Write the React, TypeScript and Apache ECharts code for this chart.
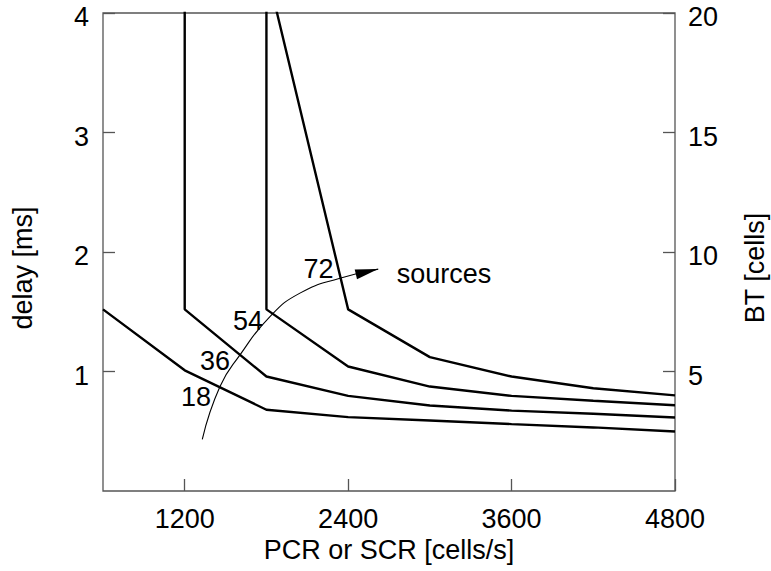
import React, { useEffect, useRef } from "react";
import * as echarts from "echarts";

// x: PCR or SCR [cells/s], y: delay [ms]
const xTicks = [1200, 2400, 3600, 4800];
const curve18 = [[600, 1.52], [1200, 1.01], [1800, 0.68], [2400, 0.618], [3000, 0.59], [3600, 0.56], [4200, 0.532], [4800, 0.498]];
const curve36 = [[1200, 4.6], [1200, 1.52], [1800, 0.958], [2400, 0.796], [3000, 0.715], [3600, 0.673], [4200, 0.646], [4800, 0.615]];
const curve54 = [[1800, 4.6], [1800, 1.52], [2400, 1.042], [3000, 0.874], [3600, 0.796], [4200, 0.755], [4800, 0.718]];
const curve72 = [[1800, 4.37], [2400, 1.52], [3000, 1.12], [3600, 0.958], [4200, 0.86], [4800, 0.8]];
const curves = [curve18, curve36, curve54, curve72];

// annotation anchors (data coordinates)
const labelTexts = ["18", "36", "54", "72", "sources"];
const labelAnchors = [[1283, 0.783], [1422, 1.089], [1665, 1.424], [2182, 1.859], [3104, 1.817]];
const arrowPath = [[1329, 0.433], [1459, 0.874], [1606, 1.139], [1826, 1.46], [2046, 1.656], [2340, 1.781], [2621, 1.857]];

const FONT = "'Liberation Sans', Arial, Helvetica, sans-serif";
const FS = 27;
const AXIS_GRAY = "#555555";

const yLabelStyle = (margin: number) => ({
  showMinLabel: false,
  formatter: (v: number) => "{v|" + v + "}",
  rich: { v: { fontSize: FS, fontFamily: FONT, color: "#000", lineHeight: 28, padding: [8, 0, 0, 0] } },
  margin,
});

export default function App() {
  const ref = useRef<HTMLDivElement>(null);
  useEffect(() => {
    if (!ref.current) return;
    const chart = echarts.init(ref.current, null, { renderer: "svg" });
    const lineSeries = curves.map((c) => ({
      type: "line",
      data: c,
      symbol: "none",
      clip: true,
      lineStyle: { color: "#000", width: 2.4 },
      xAxisIndex: 0,
      yAxisIndex: 0,
      z: 3,
    }));
    const option: any = {
      animation: false,
      backgroundColor: "#fff",
      textStyle: { fontFamily: FONT },
      grid: {
        left: 103,
        right: 96,
        top: 13,
        bottom: 80,
        containLabel: false,
        outerBoundsMode: "none",
        show: true,
        borderColor: AXIS_GRAY,
        borderWidth: 1.3,
        backgroundColor: "transparent",
      },
      xAxis: {
        type: "value",
        min: 600,
        max: 4800,
        name: "PCR or SCR [cells/s]",
        nameLocation: "middle",
        nameGap: 41,
        nameTextStyle: { fontSize: FS, color: "#000", fontFamily: FONT },
        splitLine: { show: false },
        axisLine: { show: false },
        axisTick: { show: true, inside: true, length: 12, customValues: xTicks, lineStyle: { color: AXIS_GRAY, width: 1.3 } },
        axisLabel: { customValues: xTicks, formatter: (v: number) => String(v), fontSize: FS, color: "#000", fontFamily: FONT, margin: 14 },
      },
      yAxis: [
        {
          type: "value",
          min: 0,
          max: 4,
          interval: 1,
          position: "left",
          name: "delay [ms]",
          nameLocation: "middle",
          nameRotate: 90,
          nameGap: 67,
          nameTextStyle: { fontSize: FS, color: "#000", fontFamily: FONT, padding: [0, 32, 0, 0] },
          splitLine: { show: false },
          axisLine: { show: false },
          axisTick: { show: true, inside: true, length: 12, lineStyle: { color: AXIS_GRAY, width: 1.3 } },
          axisLabel: yLabelStyle(14),
        },
        {
          type: "value",
          min: 0,
          max: 20,
          interval: 5,
          position: "right",
          alignTicks: false,
          name: "BT [cells]",
          nameLocation: "middle",
          nameRotate: 90,
          nameGap: 66,
          nameTextStyle: { fontSize: FS, color: "#000", fontFamily: FONT, padding: [0, 32, 0, 0] },
          splitLine: { show: false },
          axisLine: { show: false },
          axisTick: { show: true, inside: true, length: 12, lineStyle: { color: AXIS_GRAY, width: 1.3 } },
          axisLabel: yLabelStyle(13),
        },
      ],
      series: [
        ...lineSeries,
        {
          type: "line",
          data: arrowPath,
          smooth: 0.5,
          symbol: "none",
          clip: false,
          lineStyle: { color: "#000", width: 1.1 },
          xAxisIndex: 0,
          yAxisIndex: 0,
          z: 4,
        },
        {
          type: "scatter",
          data: labelAnchors.map((p, i) => ({ value: p, name: labelTexts[i] })),
          symbolSize: 0,
          clip: false,
          xAxisIndex: 0,
          yAxisIndex: 0,
          z: 5,
          itemStyle: { opacity: 1, color: "#000" },
          label: {
            show: true,
            position: "inside",
            formatter: "{b}",
            color: "#000",
            opacity: 1,
            fontSize: FS,
            fontFamily: FONT,
          },
        },
      ],
    };
    chart.setOption(option);

    const arrowSeriesIndex = curves.length;
    const tip = chart.convertToPixel({ seriesIndex: arrowSeriesIndex }, arrowPath[arrowPath.length - 1]) as number[];
    const prev = chart.convertToPixel({ seriesIndex: arrowSeriesIndex }, arrowPath[arrowPath.length - 2]) as number[];
    if (tip && prev) {
      const dx = tip[0] - prev[0];
      const dy = tip[1] - prev[1];
      const len = Math.sqrt(dx * dx + dy * dy) || 1;
      const ux = dx / len;
      const uy = dy / len;
      const headLen = 23;
      const halfW = 5;
      const bx = tip[0] - ux * headLen;
      const by = tip[1] - uy * headLen;
      chart.setOption({
        graphic: [
          {
            type: "polygon",
            shape: {
              points: [
                [tip[0], tip[1]],
                [bx - uy * halfW, by + ux * halfW],
                [bx + uy * halfW, by - ux * halfW],
              ],
            },
            style: { fill: "#000" },
            z: 10,
          },
        ],
      });
    }
    return () => chart.dispose();
  }, []);
  return <div ref={ref} style={{ position: "fixed", left: 0, top: 0, width: 771, height: 571 }} />;
}
